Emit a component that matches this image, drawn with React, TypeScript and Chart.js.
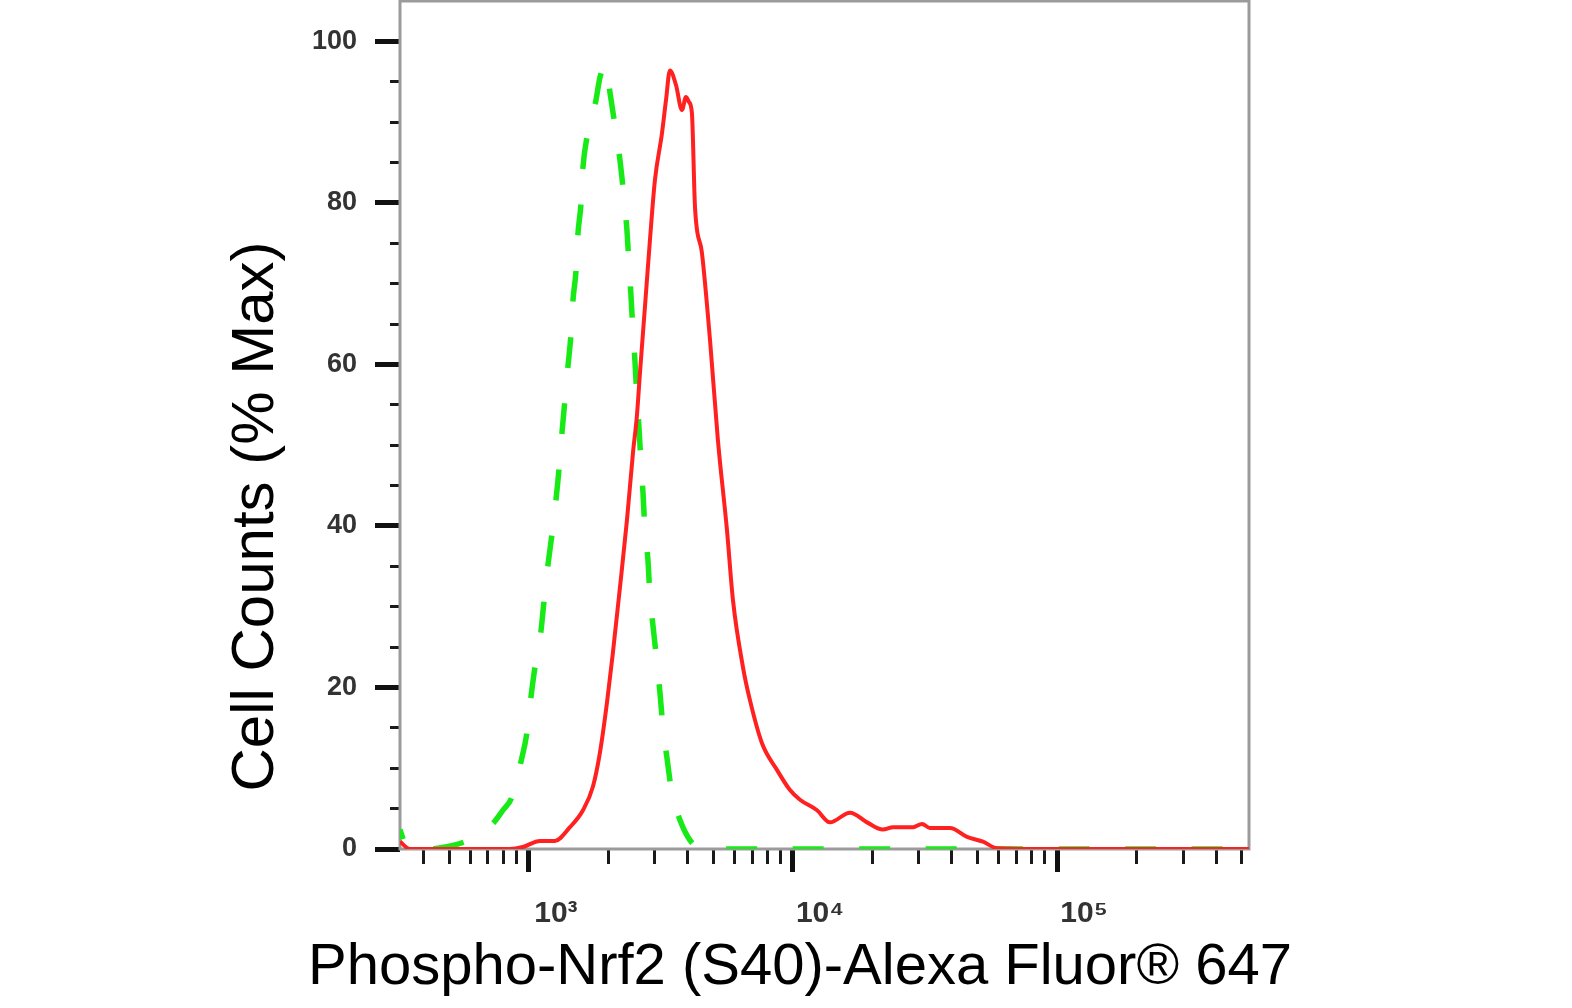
import React, { useEffect, useRef } from 'react';
import { Chart, registerables } from 'chart.js';

Chart.register(...registerables);

const FONT = "'Liberation Sans', Arial, Helvetica, sans-serif";

// axis ranges (log x, linear y)
const xMin = 325;
const xMax = 533000;
const yMin = 0;
const yMax = 105;

const xMajorTicks = [1000, 10000, 100000];
const xMajorLabels = ['10³', '10⁴', '10⁵'];
const xMinorTicks = [
  400, 500, 600, 700, 800, 900,
  2000, 3000, 4000, 5000, 6000, 7000, 8000, 9000,
  20000, 30000, 40000, 50000, 60000, 70000, 80000, 90000,
  200000, 300000, 400000, 500000,
];
const yMajorTicks = [0, 20, 40, 60, 80, 100];
const yMinorTicks = [5, 10, 15, 25, 30, 35, 45, 50, 55, 65, 70, 75, 85, 90, 95];

// stained sample (solid red)
const redX = [
  325, 354, 502, 652, 847, 949, 1101, 1254, 1430, 1602, 1747, 1857, 1975, 2080,
  2212, 2351, 2477, 2565, 2633, 2750, 2873, 3000, 3190, 3304, 3420, 3605, 3798,
  3932, 4036, 4143, 4255, 4521, 4851, 5197, 5623, 5926, 6466, 6874, 7631, 8695,
  9741, 10630, 12330, 13800, 16440, 19070, 21910, 23920, 28480, 30810, 33030,
  39340, 45620, 52450, 59270, 81100, 145500, 533000,
];
const redY = [
  0.9, 0, 0, 0, 0, 0.25, 1.0, 1.0, 2.7, 4.8, 7.7, 11.9, 18.1, 24.3,
  32.4, 40.7, 49.0, 53.7, 58.9, 67.1, 75.4, 82.8, 88.6, 92.7, 96.4, 94.6, 91.5,
  93.1, 92.5, 91.1, 79.5, 73.8, 63.0, 50.6, 39.5, 30.8, 22.5, 18.4, 13.1, 9.8,
  7.3, 6.1, 4.8, 3.3, 4.5, 3.3, 2.4, 2.7, 2.7, 3.1, 2.6,
  2.6, 1.5, 0.9, 0.1, 0, 0, 0,
];

// isotype control (dashed green)
const greenX = [
  325, 339, 360, 404, 452, 511, 582, 652, 737, 797, 862, 933, 983, 1018, 1054,
  1110, 1140, 1180, 1222, 1266, 1299, 1334, 1369, 1405, 1442, 1468, 1507, 1533,
  1574, 1602, 1659, 1733, 1794, 1857, 1957, 2027, 2117, 2212, 2290, 2351, 2392,
  2434, 2477, 2520, 2565, 2611, 2657, 2703, 2750, 2823, 2873, 2949, 3053, 3134,
  3218, 3332, 3481, 3733, 4072, 4443, 5064, 533000,
];
const greenY = [
  2.4, 0.7, 0, 0, 0.1, 0.4, 1.0, 1.9, 3.3, 4.8, 6.4, 10.8, 14.4, 18.8, 22.5,
  26.9, 30.6, 35.1, 38.9, 43.2, 46.9, 51.5, 55.6, 59.7, 63.6, 67.9, 71.5, 76.1,
  79.8, 84.4, 88.1, 90.6, 92.7, 95.5, 97.2, 93.7, 89.6, 85.3, 80.7, 76.6, 72.5,
  68.6, 64.2, 60.5, 55.9, 52.2, 47.8, 44.2, 39.5, 35.8, 31.4, 27.7, 23.1, 19.4,
  15.1, 11.3, 6.9, 3.6, 1.1, 0.1, 0, 0,
];

// grey box around the plot area
const framePlugin = {
  id: 'frame',
  beforeDatasetsDraw(chart: Chart) {
    const { ctx, chartArea } = chart;
    const { left, top, right, bottom } = chartArea;
    ctx.save();
    ctx.strokeStyle = '#9b9b9b';
    ctx.lineWidth = 3;
    ctx.strokeRect(left, top, right - left, bottom - top);
    ctx.restore();
  },
};

// fixed box sizes, no extra label padding pushed into the layout
const fixSize = (w: number | null, h: number | null) => (s: any) => {
  if (w !== null) s.width = w;
  if (h !== null) s.height = h;
  s.paddingTop = 0;
  s.paddingBottom = 0;
  s.paddingLeft = 0;
  s.paddingRight = 0;
};

export default function App() {
  const chartRef = useRef<HTMLCanvasElement>(null);
  const chartInstance = useRef<Chart | null>(null);

  useEffect(() => {
    if (!chartRef.current) return;
    if (chartInstance.current) chartInstance.current.destroy();

    const ctx = chartRef.current.getContext('2d');
    if (!ctx) return;

    chartInstance.current = new Chart(ctx, {
      type: 'line',
      data: {
        datasets: [
          {
            label: 'Phospho-Nrf2',
            data: redX.map((x, i) => ({ x, y: redY[i] })),
            borderColor: '#ff2020',
            borderWidth: 4,
            pointRadius: 0,
            cubicInterpolationMode: 'monotone',
            xAxisID: 'x',
            yAxisID: 'y',
          },
          {
            label: 'Isotype',
            data: greenX.map((x, i) => ({ x, y: greenY[i] })),
            borderColor: 'rgb(24, 234, 24)',
            borderWidth: 5.5,
            borderDash: [31, 35.5],
            borderDashOffset: 21,
            pointRadius: 0,
            cubicInterpolationMode: 'monotone',
            xAxisID: 'x',
            yAxisID: 'y',
          },
        ],
      },
      options: {
        responsive: false,
        animation: false,
        events: [],
        layout: { padding: { left: 28, right: 0, top: 1, bottom: 0 } },
        plugins: {
          legend: { display: false },
          tooltip: { enabled: false },
          title: {
            display: true,
            text: 'Cell Counts (% Max)',
            position: 'left',
            color: '#000',
            font: { family: FONT, size: 60, weight: 'normal', lineHeight: 1 },
            padding: { top: 198, bottom: 0 },
          },
          subtitle: {
            display: true,
            text: 'Phospho-Nrf2 (S40)-Alexa Fluor® 647',
            position: 'bottom',
            color: '#000',
            font: { family: FONT, size: 58, weight: 'normal', lineHeight: 1 },
            padding: { top: 0, bottom: 35 },
          },
        },
        scales: {
          xm: {
            type: 'logarithmic',
            position: 'bottom',
            weight: 0,
            min: xMin,
            max: xMax,
            bounds: 'data',
            afterBuildTicks: (s: any) => {
              s.ticks = xMinorTicks.map((v) => ({ value: v }));
            },
            afterFit: fixSize(null, 0),
            grid: { drawOnChartArea: false, tickLength: 15, tickWidth: 3, tickColor: '#1a1a1a' },
            border: { display: false },
            ticks: { display: false },
          },
          x: {
            type: 'logarithmic',
            position: 'bottom',
            weight: 1,
            min: xMin,
            max: xMax,
            bounds: 'data',
            afterBuildTicks: (s: any) => {
              s.ticks = xMajorTicks.map((v) => ({ value: v }));
            },
            afterFit: fixSize(null, 90),
            grid: { drawOnChartArea: false, tickLength: 23, tickWidth: 5, tickColor: '#111' },
            border: { display: false },
            ticks: {
              autoSkip: false,
              maxRotation: 0,
              padding: 24,
              labelOffset: 27,
              color: '#333',
              font: { family: FONT, size: 30, weight: 'bold' },
              callback: (_v: any, i: number) => xMajorLabels[i] ?? '',
            },
          },
          ym: {
            type: 'linear',
            position: 'left',
            weight: 0,
            min: yMin,
            max: yMax,
            bounds: 'data',
            afterBuildTicks: (s: any) => {
              s.ticks = yMinorTicks.map((v) => ({ value: v }));
            },
            afterFit: fixSize(0, null),
            grid: { drawOnChartArea: false, tickLength: 10, tickWidth: 3, tickColor: '#1a1a1a' },
            border: { display: false },
            ticks: { display: false },
          },
          y: {
            type: 'linear',
            position: 'left',
            weight: 1,
            min: yMin,
            max: yMax,
            bounds: 'data',
            afterBuildTicks: (s: any) => {
              s.ticks = yMajorTicks.map((v) => ({ value: v }));
            },
            afterFit: fixSize(114, null),
            grid: { drawOnChartArea: false, tickLength: 25, tickWidth: 5, tickColor: '#111' },
            border: { display: false },
            ticks: {
              padding: 18,
              color: '#333',
              font: { family: FONT, size: 27, weight: 'bold' },
              callback: (v: any) => String(v),
            },
          },
          yr: {
            type: 'linear',
            position: 'right',
            afterFit: fixSize(323, null),
            grid: { display: false },
            border: { display: false },
            ticks: { display: false },
          },
        },
      },
      plugins: [framePlugin],
    } as any);

    return () => {
      if (chartInstance.current) {
        chartInstance.current.destroy();
        chartInstance.current = null;
      }
    };
  }, []);

  return (
    <div
      style={{
        position: 'fixed',
        left: 0,
        top: 0,
        width: 1572,
        height: 1008,
        overflow: 'hidden',
        background: '#fff',
      }}
    >
      <canvas ref={chartRef} width={1572} height={1032} style={{ display: 'block' }} />
    </div>
  );
}
